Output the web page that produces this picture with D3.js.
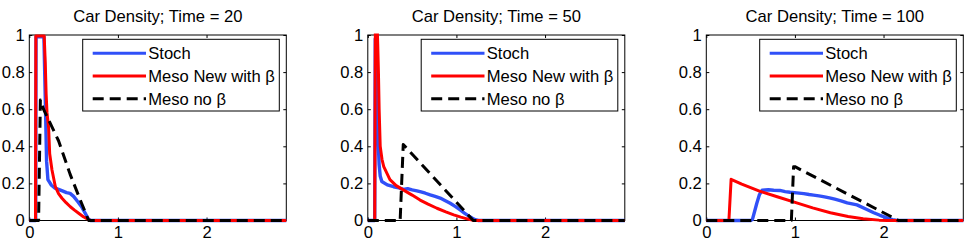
<!DOCTYPE html>
<html>
<head>
<meta charset="utf-8">
<script src="https://cdn.jsdelivr.net/npm/d3@7"></script>
<style>
  body { margin: 0; background: #fff; }
  text { font-family: "Liberation Sans", Arial, sans-serif; fill: #000; }
</style>
</head>
<body>
<svg id="chart" width="969" height="243"></svg>
<script>
const times = [20, 50, 100];
const seriesNames = ["Stoch", "Meso New with β", "Meso no β"];
const seriesColors = ["#3050f8", "#ff0000", "#000000"];
const xTicks = [0, 1, 2];
const yTicks = [0, 0.2, 0.4, 0.6, 0.8, 1];

// [x, density]
const stoch20 = [[0,0],[0.072,0],[0.076,0.99],[0.165,0.99],[0.182,0.62],[0.195,0.32],[0.21,0.22],[0.25,0.19],
  [0.29,0.175],[0.33,0.168],[0.38,0.158],[0.42,0.15],[0.46,0.146],[0.5,0.13],[0.55,0.1],[0.59,0.074],
  [0.63,0.04],[0.66,0.012],[0.69,0],[2.9,0]];
const meso20 = [[0,0],[0.07,0],[0.074,0.995],[0.168,0.995],[0.18,0.85],[0.19,0.68],[0.2,0.58],[0.218,0.5],
  [0.23,0.36],[0.256,0.272],[0.294,0.182],[0.33,0.145],[0.369,0.12],[0.415,0.096],[0.463,0.074],
  [0.51,0.056],[0.557,0.039],[0.61,0.02],[0.67,0.004],[0.69,0],[2.9,0]];
const nobeta20 = [[0,0],[0.105,0],[0.125,0.65],[0.16,0.6],[0.33,0.43],[0.46,0.25],[0.59,0.093],[0.67,0],[2.9,0]];

const stoch50 = [[0,0],[0.078,0],[0.084,0.98],[0.1,0.9],[0.11,0.65],[0.118,0.42],[0.128,0.3],[0.14,0.24],
  [0.158,0.21],[0.22,0.192],[0.29,0.182],[0.35,0.176],[0.403,0.168],[0.45,0.172],[0.5,0.165],[0.554,0.16],
  [0.6,0.154],[0.65,0.147],[0.704,0.138],[0.76,0.13],[0.817,0.121],[0.87,0.108],[0.93,0.093],[0.99,0.075],
  [1.043,0.057],[1.09,0.04],[1.137,0.025],[1.18,0.012],[1.213,0.004],[1.25,0],[2.9,0]];
const meso50 = [[0,0],[0.078,0],[0.086,1.15],[0.1,1.15],[0.112,0.95],[0.12,0.8],[0.128,0.6],[0.14,0.4],
  [0.16,0.33],[0.18,0.29],[0.25,0.22],[0.32,0.188],[0.4,0.165],[0.5,0.137],[0.59,0.11],[0.68,0.088],
  [0.78,0.066],[0.88,0.046],[0.97,0.03],[1.05,0.018],[1.12,0.009],[1.2,0],[2.9,0]];
const nobeta50 = [[0,0],[0.365,0],[0.4,0.41],[1.19,0],[2.9,0]];

const stoch100 = [[0,0],[0.5,0],[0.52,0.005],[0.57,0.093],[0.6,0.14],[0.63,0.164],[0.7,0.166],[0.76,0.163],
  [0.83,0.162],[0.89,0.156],[0.945,0.152],[1.02,0.149],[1.1,0.145],[1.16,0.14],[1.21,0.137],[1.27,0.133],
  [1.32,0.129],[1.39,0.122],[1.45,0.115],[1.52,0.106],[1.59,0.095],[1.7,0.084],[1.8,0.062],[1.89,0.042],
  [1.96,0.028],[2.04,0.014],[2.1,0.005],[2.15,0],[2.9,0]];
const meso100 = [[0,0],[0.255,0],[0.28,0.222],[0.4,0.196],[0.6,0.158],[0.8,0.128],[1.02,0.095],[1.2,0.068],
  [1.4,0.042],[1.6,0.022],[1.77,0.01],[1.95,0.002],[2.04,0],[2.9,0]];
const nobeta100 = [[0,0],[0.96,0],[0.985,0.29],[1.0,0.29],[2.17,0],[2.9,0]];

const panels = [
  { time: times[0], series: [stoch20, meso20, nobeta20] },
  { time: times[1], series: [stoch50, meso50, nobeta50] },
  { time: times[2], series: [stoch100, meso100, nobeta100] }
];

const size = { left: 29.3, step: 338.5, top: 35, width: 257, height: 185.5 };
const dash = "11,6";
const fontSize = "16.6px";

const svg = d3.select("#chart");

const x = d3.scaleLinear().domain([0, 2.9]).range([0, size.width]);
const y = d3.scaleLinear().domain([0, 1]).range([size.height, 0]);

const line = d3.line().x(d => x(d[0])).y(d => y(d[1]));

panels.forEach((p, i) => {
  const g = svg.append("g")
    .attr("transform", `translate(${size.left + i * size.step},${size.top})`);

  g.append("clipPath").attr("id", `clip${i}`)
    .append("rect")
      .attr("x", -4).attr("y", -1.5)
      .attr("width", size.width + 8).attr("height", size.height + 6);

  g.append("text")
    .attr("x", size.width / 2)
    .attr("y", 22 - size.top)
    .attr("text-anchor", "middle")
    .style("font-size", fontSize)
    .text(`Car Density; Time = ${p.time}`);

  const axes = [
    d3.axisLeft(y).tickValues(yTicks).tickFormat(d3.format("")),
    d3.axisRight(y).tickValues(yTicks).tickFormat(""),
    d3.axisBottom(x).tickValues(xTicks).tickFormat(d3.format("d")),
    d3.axisTop(x).tickValues(xTicks).tickFormat("")
  ];
  const shifts = [[0, 0], [size.width, 0], [0, size.height], [0, 0]];

  axes.forEach((a, k) => {
    const ag = g.append("g")
      .attr("transform", `translate(${shifts[k][0]},${shifts[k][1]})`)
      .call(a.tickSizeInner(-3).tickSizeOuter(0).tickPadding(k === 2 ? 6 : 4.5));
    ag.select(".domain").remove();
    ag.selectAll("line").attr("stroke", "#000");
    ag.selectAll("text").style("font-size", fontSize);
  });

  g.append("rect")
    .attr("width", size.width)
    .attr("height", size.height)
    .attr("fill", "none")
    .attr("stroke", "#000")
    .attr("stroke-width", 1);

  const plot = g.append("g").attr("clip-path", `url(#clip${i})`);
  p.series.forEach((s, k) => {
    plot.append("path")
      .datum(s)
      .attr("d", line)
      .attr("fill", "none")
      .attr("stroke", seriesColors[k])
      .attr("stroke-width", k === 0 ? 3.4 : 3)
      .attr("stroke-linejoin", "round")
      .attr("stroke-dasharray", k === 2 ? dash : null);
  });

  const legend = g.append("g").attr("transform", "translate(53.4,4.3)");
  legend.append("rect")
    .attr("width", 196.6)
    .attr("height", 71.7)
    .attr("fill", "#fff")
    .attr("stroke", "#000")
    .attr("stroke-width", 1);

  seriesNames.forEach((name, k) => {
    const rowY = 14 + k * 22.7;
    legend.append("line")
      .attr("x1", 10).attr("x2", 63.3)
      .attr("y1", rowY).attr("y2", rowY)
      .attr("stroke", seriesColors[k])
      .attr("stroke-width", 3)
      .attr("stroke-dasharray", k === 2 ? dash : null);
    legend.append("text")
      .attr("x", 65.5)
      .attr("y", rowY)
      .attr("dy", "0.35em")
      .style("font-size", fontSize)
      .text(name);
  });
});
</script>
</body>
</html>
